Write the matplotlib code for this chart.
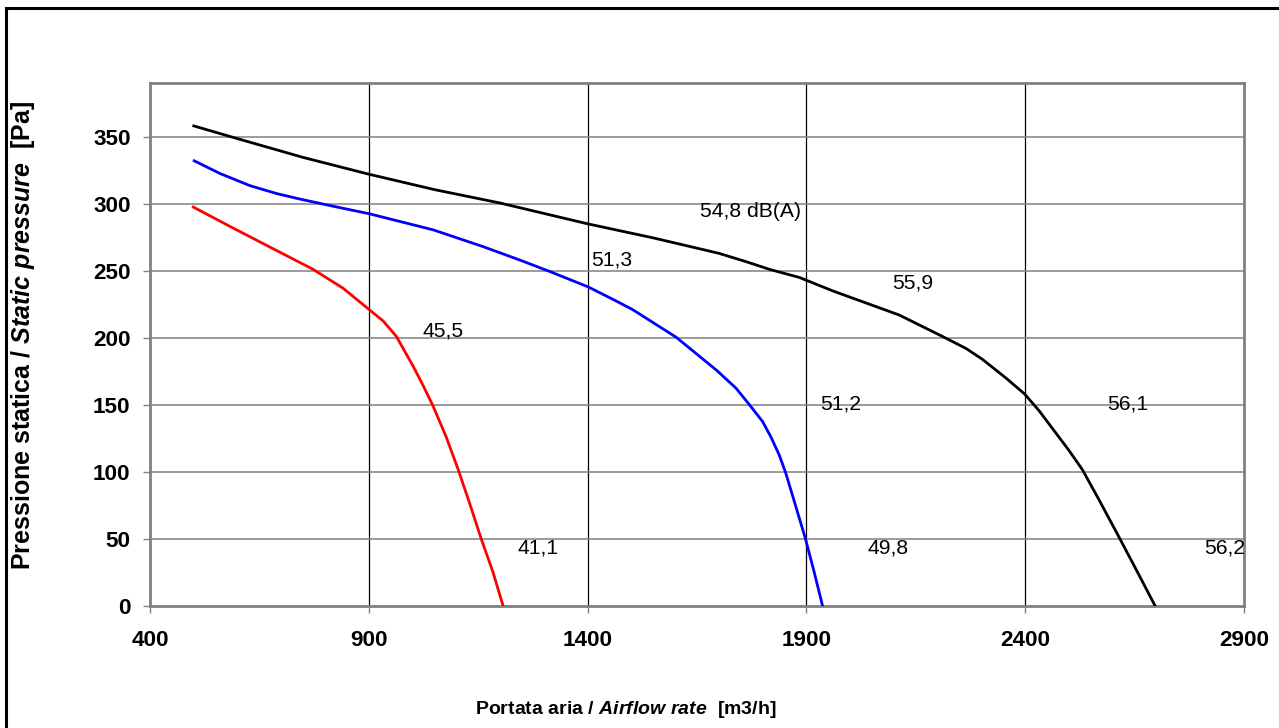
import matplotlib
matplotlib.use("Agg")
import matplotlib.pyplot as plt
from matplotlib.lines import Line2D

plt.rcParams['font.family'] = ['Liberation Sans', 'DejaVu Sans']
plt.rcParams['mathtext.fontset'] = 'custom'
plt.rcParams['mathtext.it'] = 'Liberation Sans:italic:bold'
plt.rcParams['mathtext.rm'] = 'Liberation Sans:bold'

# curves: airflow [m3/h], static pressure [Pa]
black_x = [500, 600, 750, 900, 1050, 1200, 1400, 1550, 1700, 1760, 1816, 1884, 1960, 2112, 2211,
           2265, 2302, 2356, 2399, 2432, 2462, 2500, 2531, 2569, 2615, 2653, 2697]
black_y = [358, 348.5, 334.5, 322, 310.5, 300.5, 285, 274.5, 263, 257, 251, 245, 235, 217, 201,
           192, 184, 170, 158, 145.5, 132.5, 116, 101.5, 79, 51, 27.5, 0]

blue_x = [501, 560, 628, 690, 742, 820, 901, 1047, 1161, 1245, 1313, 1401, 1462, 1503, 1602, 1694,
          1739, 1770, 1800, 1819, 1838, 1853, 1876, 1898, 1918, 1937]
blue_y = [332, 322.5, 313.5, 307.5, 303.5, 298, 292.5, 280.5, 268, 258, 249.5, 238, 228, 221, 200.5, 176,
          162.5, 150, 137.5, 126, 112.5, 99, 74, 50, 25, 0]

red_x = [499, 583, 666, 773, 841, 901, 933, 963, 982, 1001, 1024, 1047, 1077, 1104, 1131, 1157, 1184, 1207]
red_y = [297.5, 283, 269, 251, 237, 221, 212.5, 201, 190, 179, 164.5, 149, 126, 102, 76, 50, 25, 0]

# noise levels dB(A) and where they are written
labels = ["54,8 dB(A)", "51,3", "55,9", "45,5", "51,2", "56,1", "41,1", "49,8", "56,2"]
label_x = [1656, 1407, 2096, 1022, 1931, 2588, 1240, 2040, 2809]
label_y = [294, 258, 241, 205, 151, 151, 43, 43, 43]

x_ticks = [400, 900, 1400, 1900, 2400, 2900]
y_ticks = [0, 50, 100, 150, 200, 250, 300, 350]

W, H = 1279, 728
fig = plt.figure(figsize=(W / 100, H / 100), dpi=100)
ax = fig.add_axes([150 / W, (H - 606) / H, (1244 - 150) / W, (606 - 83) / H])

for gx in x_ticks[1:-1]:
    ax.axvline(gx, color='black', lw=0.9, zorder=1)
for gy in y_ticks[1:]:
    ax.axhline(gy, color='#808080', lw=1.1, zorder=1)

ax.plot(black_x, black_y, color='black', lw=2, zorder=3, solid_joinstyle='round')
ax.plot(blue_x, blue_y, color='#0000ff', lw=2, zorder=3, solid_joinstyle='round')
ax.plot(red_x, red_y, color='#ff0000', lw=2, zorder=3, solid_joinstyle='round')

for t, lx, ly in zip(labels, label_x, label_y):
    ax.text(lx, ly, t, fontsize=15.2, ha='left', va='center', zorder=4)

ax.set_xlim(400, 2900)
ax.set_ylim(0, 390)
ax.set_xticks(x_ticks)
ax.set_yticks(y_ticks)
for s in ax.spines.values():
    s.set_color('#808080')
    s.set_linewidth(2)
ax.tick_params(axis='both', direction='out', color='#808080', length=5, width=1)
ax.tick_params(axis='x', pad=12)
ax.tick_params(axis='y', pad=9)
for lab in ax.get_xticklabels() + ax.get_yticklabels():
    lab.set_fontsize(16.2)
    lab.set_fontweight('bold')

fig.text(626 / W, (H - 710) / H, r'Portata aria / $\mathit{Airflow\ rate}$  [m3/h]',
         fontsize=14, fontweight='bold', ha='center', va='center')
fig.text(23 / W, (H - 335) / H, r'Pressione statica / $\mathit{Static\ pressure}$  [Pa]',
         fontsize=18, fontweight='bold', ha='center', va='center', rotation=90)

# outer frame (top and left edges visible)
fig.add_artist(Line2D([6 / W, 1], [1 - 8 / H, 1 - 8 / H], transform=fig.transFigure, color='black', lw=2.2))
fig.add_artist(Line2D([6 / W, 6 / W], [0, 1 - 8 / H], transform=fig.transFigure, color='black', lw=2.2))

plt.savefig("out.png", dpi=100)
